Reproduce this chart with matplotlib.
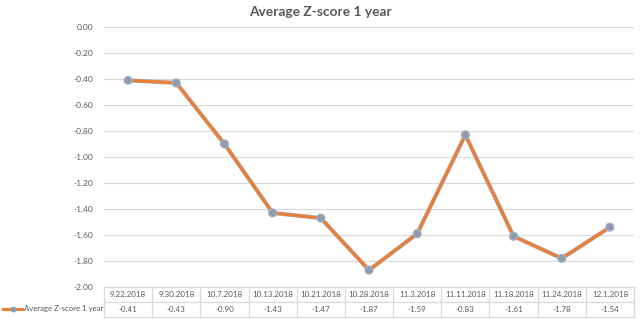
import matplotlib.pyplot as plt
import matplotlib.patheffects as pe
from matplotlib.lines import Line2D

# data
dates = ["9.22.2018", "9.30.2018", "10.7.2018", "10.13.2018", "10.21.2018",
         "10.28.2018", "11.3.2018", "11.11.2018", "11.18.2018", "11.24.2018", "12.1.2018"]
zscores = [-0.41, -0.43, -0.90, -1.43, -1.47, -1.87, -1.59, -0.83, -1.61, -1.78, -1.54]
series_name = "Average Z-score 1 year"
yticks = [0.0, -0.2, -0.4, -0.6, -0.8, -1.0, -1.2, -1.4, -1.6, -1.8, -2.0]

ORANGE = "#ED7D31"
GRID = "#D9D9D9"
TXT = "#595959"
MK = "#8C9BB0"
plt.rcParams["font.family"] = ["Lato", "DejaVu Sans"]

fig = plt.figure(figsize=(6.4, 3.19), dpi=100)
ax = fig.add_axes([104 / 640, 1 - 287 / 319, 530 / 640, 260 / 319])

x = list(range(len(dates)))
ax.plot(x, zscores, color=ORANGE, lw=2.2, marker="o", ms=3.6,
        mfc=MK, mec=MK, zorder=3,
        path_effects=[pe.Stroke(linewidth=3.0, foreground="#A3AFC0"), pe.Normal()])

ax.set_xlim(-0.5, len(dates) - 0.5)
ax.set_ylim(-2.0, 0.0)
ax.set_yticks(yticks)
ax.set_yticklabels([f"{t:.2f}" for t in yticks])
ax.set_xticks([])
ax.tick_params(axis="y", length=0, pad=8, labelsize=6.0, labelcolor=TXT)
ax.grid(axis="y", color=GRID, lw=0.9)
ax.set_axisbelow(True)
for s in ax.spines.values():
    s.set_visible(False)

fig.text(0.5, 1 - 12 / 319, series_name, ha="center", va="center",
         fontsize=9.9, fontweight="bold", color=TXT)

# data table under the plot
rh = 15 / 260
tr = ax.get_xaxis_transform()
for y in (0, -rh, -2 * rh):
    ax.plot([-0.5, len(dates) - 0.5], [y, y], transform=tr, color=GRID, lw=0.9, clip_on=False)
for i in range(len(dates) + 1):
    ax.plot([i - 0.5, i - 0.5], [0, -2 * rh], transform=tr, color=GRID, lw=0.9, clip_on=False)
for i, (d, v) in enumerate(zip(dates, zscores)):
    ax.text(i, -rh / 2, d, transform=tr, ha="center", va="center", fontsize=5.8, color=TXT)
    ax.text(i, -1.5 * rh, f"{v:.2f}", transform=tr, ha="center", va="center", fontsize=5.8, color=TXT)

# legend key in the row header
ly = 1 - 309 / 319
fig.add_artist(Line2D([3 / 640, 22 / 640], [ly, ly], color=ORANGE, lw=2.2,
                      transform=fig.transFigure))
fig.add_artist(Line2D([12.5 / 640], [ly], marker="o", ms=3.2, mfc=MK, mec=MK,
                      transform=fig.transFigure))
fig.text(24 / 640, ly, series_name, ha="left", va="center", fontsize=5.6, color=TXT)

fig.savefig("out.png", dpi=100, facecolor="white")
